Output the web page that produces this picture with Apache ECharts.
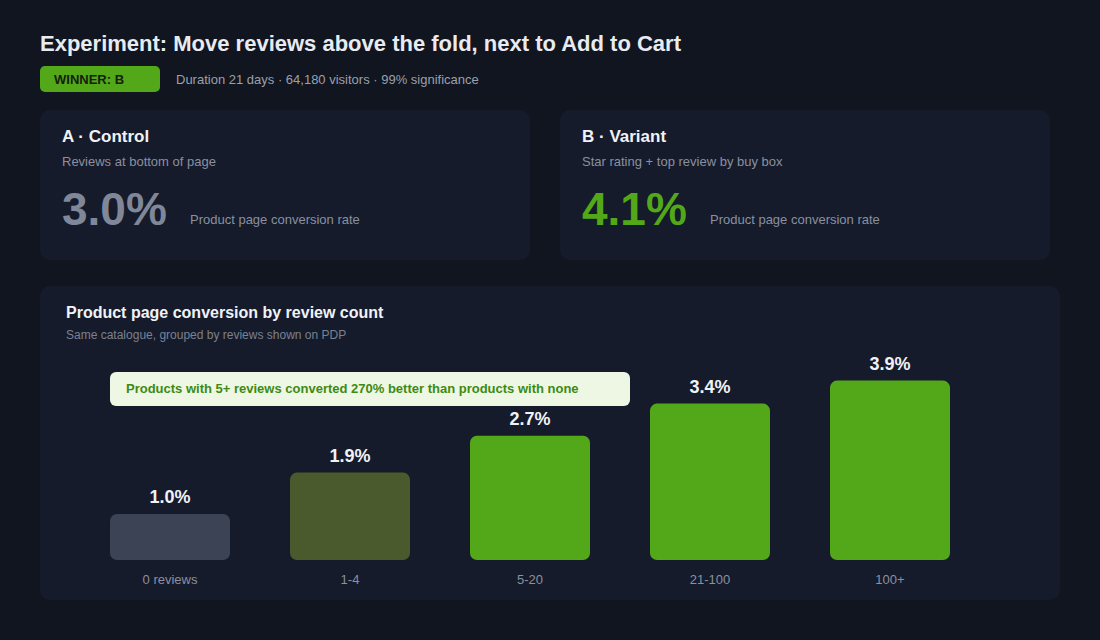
<!DOCTYPE html>
<html>
<head>
<meta charset="utf-8">
<script src="https://cdn.jsdelivr.net/npm/echarts@6/dist/echarts.min.js"></script>
<style>
html,body{margin:0;padding:0;background:#11151f;}
#chart{width:1100px;height:640px;}
</style>
</head>
<body>
<div id="chart"></div>
<script>
const categories = ['0 reviews', '1-4', '5-20', '21-100', '100+'];
const conversion = [1.0, 1.9, 2.7, 3.4, 3.9];
const barColors = ['#3b4354', '#4a5a2c', '#52a818', '#52a818', '#52a818'];
const controlRate = '3.0%';
const variantRate = '4.1%';
const titleText = 'Experiment: Move reviews above the fold, next to Add to Cart';
const metaText = 'Duration 21 days · 64,180 visitors · 99% significance';
const calloutText = 'Products with 5+ reviews converted 270% better than products with none';

const FONT = '"Liberation Sans", Arial, Helvetica, sans-serif';
const chart = echarts.init(document.getElementById('chart'), null, {renderer: 'svg'});

function txt(x, y, text, size, color, weight, extra) {
  return Object.assign({
    type: 'text', x: x, y: y, z: 10,
    style: {text: text, fontSize: size, fill: color, fontWeight: weight || 'normal',
      fontFamily: FONT, textVerticalAlign: 'middle', textAlign: 'left'}
  }, extra || {});
}
function panel(x, y, w, h) {
  return {type: 'rect', shape: {x: x, y: y, width: w, height: h, r: 10}, z: 0,
    style: {fill: '#161b2b'}};
}

const graphics = [
  panel(40, 110, 490, 150),
  panel(560, 110, 490, 150),
  panel(40, 286, 1020, 314),
  txt(40, 43, titleText, 22, '#e8ebf2', 'bold'),
  {type: 'rect', shape: {x: 40, y: 66, width: 120, height: 26, r: 5}, z: 5, style: {fill: '#52a818'}},
  txt(54, 79, 'WINNER: B', 13, '#16200e', 'bold'),
  txt(176, 79, metaText, 13, '#9aa0ad'),
  txt(62, 136, 'A · Control', 17, '#f0f2f7', 'bold'),
  txt(62, 161, 'Reviews at bottom of page', 13, '#8a90a0'),
  txt(62, 209, controlRate, 46, '#7f8799', 'bold'),
  txt(190, 219, 'Product page conversion rate', 13, '#8a90a0'),
  txt(582, 136, 'B · Variant', 17, '#f0f2f7', 'bold'),
  txt(582, 161, 'Star rating + top review by buy box', 13, '#8a90a0'),
  txt(582, 209, variantRate, 46, '#52a818', 'bold'),
  txt(710, 219, 'Product page conversion rate', 13, '#8a90a0'),
  txt(66, 312, 'Product page conversion by review count', 16, '#f0f2f7', 'bold'),
  txt(66, 335, 'Same catalogue, grouped by reviews shown on PDP', 12, '#7b8190'),
  {type: 'rect', shape: {x: 110, y: 372, width: 520, height: 34, r: 6}, z: 20, style: {fill: '#eef7e4'}},
  txt(126, 388, calloutText, 13, '#3d8a13', 'bold', {z: 21})
];

chart.setOption({
  backgroundColor: '#11151f',
  animation: false,
  graphic: graphics,
  grid: {left: 80, right: 120, top: 330, bottom: 80, containLabel: false},
  xAxis: {
    type: 'category', data: categories,
    axisLine: {show: false}, axisTick: {show: false},
    axisLabel: {color: '#8a90a0', fontSize: 13, fontFamily: FONT, margin: 13}
  },
  yAxis: {type: 'value', min: 0, max: 5, show: false, splitLine: {show: false}},
  series: [{
    type: 'bar', barWidth: 120, z: 5,
    data: conversion.map((v, i) => ({value: v, itemStyle: {color: barColors[i]}})),
    itemStyle: {borderRadius: 7},
    label: {show: true, position: 'top', distance: 8, color: '#f0f2f7', fontSize: 18,
      fontWeight: 'bold', fontFamily: FONT, formatter: p => p.value.toFixed(1) + '%'}
  }]
});
</script>
</body>
</html>
